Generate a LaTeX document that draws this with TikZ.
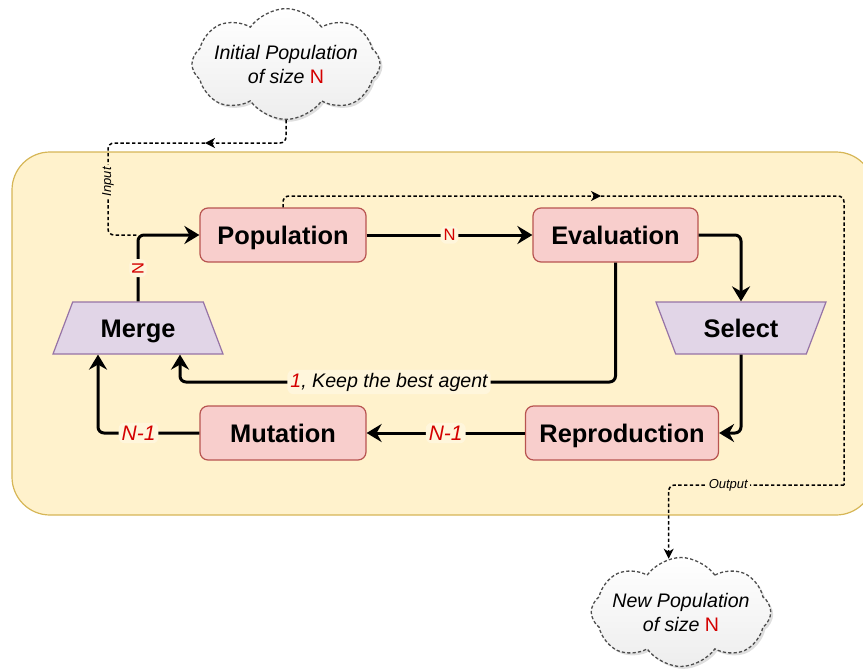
\documentclass[tikz,border=0pt]{standalone}
\usepackage{fontspec}
\setmainfont{Liberation Sans}
\usetikzlibrary{arrows.meta, positioning, shapes.geometric, shapes.symbols, shadows}

\definecolor{boxfill}{HTML}{F8CECC}
\definecolor{boxline}{HTML}{B85450}
\definecolor{opfill}{HTML}{E1D5E7}
\definecolor{opline}{HTML}{9673A6}
\definecolor{areafill}{HTML}{FFF2CC}
\definecolor{arealine}{HTML}{D6B656}
\definecolor{lblfill}{HTML}{FFF6DC}
\definecolor{numred}{HTML}{D40000}
\newcommand{\stagefont}{\fontsize{12.7}{15}\selectfont\bfseries}
\newcommand{\notefont}{\fontsize{9.8}{12}\selectfont\itshape}
\newcommand{\tinyfont}{\fontsize{6.5}{8}\selectfont\itshape}

\begin{document}
\begin{tikzpicture}[x=0.5pt, y=-0.5pt,
    stage/.style={rectangle, rounded corners=4pt, draw=boxline, fill=boxfill,
        line width=0.6pt, minimum height=27pt, text height=9.1pt, text depth=0pt,
        font=\stagefont},
    funnel/.style={trapezium, trapezium angle=58, trapezium stretches body,
        draw=opline, fill=opfill, line width=0.6pt, text height=9.1pt, text depth=0pt,
        minimum width=85pt, minimum height=26pt, font=\stagefont},
    popcloud/.style={cloud, cloud puffs=8, cloud puff arc=110, cloud ignores aspect,
        align=center, inner xsep=-3pt, inner ysep=4.5pt,
        draw=black!70, line width=0.65pt, dash pattern=on 1.6pt off 1.1pt,
        top color=white, bottom color=gray!14, font=\notefont,
        drop shadow={shadow xshift=1.2pt, shadow yshift=-1.2pt, opacity=0.25}},
    flow/.style={line width=1.5pt, rounded corners=3pt,
        -{Stealth[length=7.5pt, width=9pt, inset=2.5pt]}},
    dots/.style={line width=0.75pt, rounded corners=3pt,
        dash pattern=on 1.7pt off 1.2pt},
    tip/.style={-{Stealth[length=5pt, width=5pt, inset=1.5pt]}},
    lbl/.style={fill=lblfill, inner sep=1.5pt},
    count/.style={lbl, text=numred, font=\fontsize{10.5}{12}\selectfont\itshape}]

    \useasboundingbox (0,0) rectangle (863,669);

    % Loop area
    \draw[draw=arealine, fill=areafill, line width=0.6pt, rounded corners=19pt]
        (12,152) rectangle (874,515);

    % Clouds in and out
    \node[popcloud] (init) at (286,64)
        {Initial Population\\of size {\upshape\color{numred}N}};
    \node[popcloud] (newpop) at (681,612)
        {New Population\\of size {\upshape\color{numred}N}};

    % Steps of the loop
    \node[stage, minimum width=83pt] (pop) at (283,235) {Population};
    \node[stage, minimum width=82.5pt] (eval) at (615.5,235) {Evaluation};
    \node[funnel, shape border rotate=180] (sel) at (741,328) {Select};
    \node[stage, minimum width=96.5pt] (rep) at (622,433) {Reproduction};
    \node[stage, minimum width=83pt] (mut) at (283,433) {Mutation};
    \node[funnel] (merge) at (138,328) {Merge};

    % Bends of the connectors
    \coordinate (mcorner) at (merge.north |- pop.west);
    \coordinate (keep) at (180,382);
    \coordinate (inmid) at (205,143);
    \coordinate (inlow) at (108,235);
    \coordinate (outmid) at (601,196);
    \coordinate (outcorner) at (844,485);

    % Main loop
    \draw[flow] (pop) -- node[lbl, text=numred, font=\fontsize{8.3}{10}\selectfont] {N} (eval);
    \draw[flow] (eval.east) -| (sel.north);
    \draw[flow] (sel.south) |- (rep.east);
    \draw[flow] (rep) -- node[count] {N-1} (mut);
    \draw[flow] (mut.west) -| node[count, pos=0.3] {N-1} ([xshift=-20pt]merge.south);
    \draw[flow] (eval.south) |- node[lbl, pos=0.76, font=\notefont]
        {{\color{numred}1}, Keep the best agent} (keep) -- (keep |- merge.south);
    \draw[flow] (merge.north) |- node[pos=0.25, lbl, rotate=90, text=numred,
        font=\fontsize{8.3}{10}\selectfont] {N} (pop.west);

    % Input and output
    \draw[dots, tip] (init.south) |- (inmid);
    \draw[dots] (inmid) -| node[pos=0.71, lbl, fill=areafill, rotate=90, inner sep=1pt,
        font=\tinyfont] {Input} (inlow) -- (mcorner);
    \draw[dots, tip] (pop.north) |- (outmid);
    \draw[dots] (outmid) -| (outcorner);
    \draw[dots, tip] (outcorner) -| node[pos=0.33, lbl, fill=areafill, inner sep=1pt,
        font=\tinyfont] {Output} (newpop.103);
\end{tikzpicture}
\end{document}
